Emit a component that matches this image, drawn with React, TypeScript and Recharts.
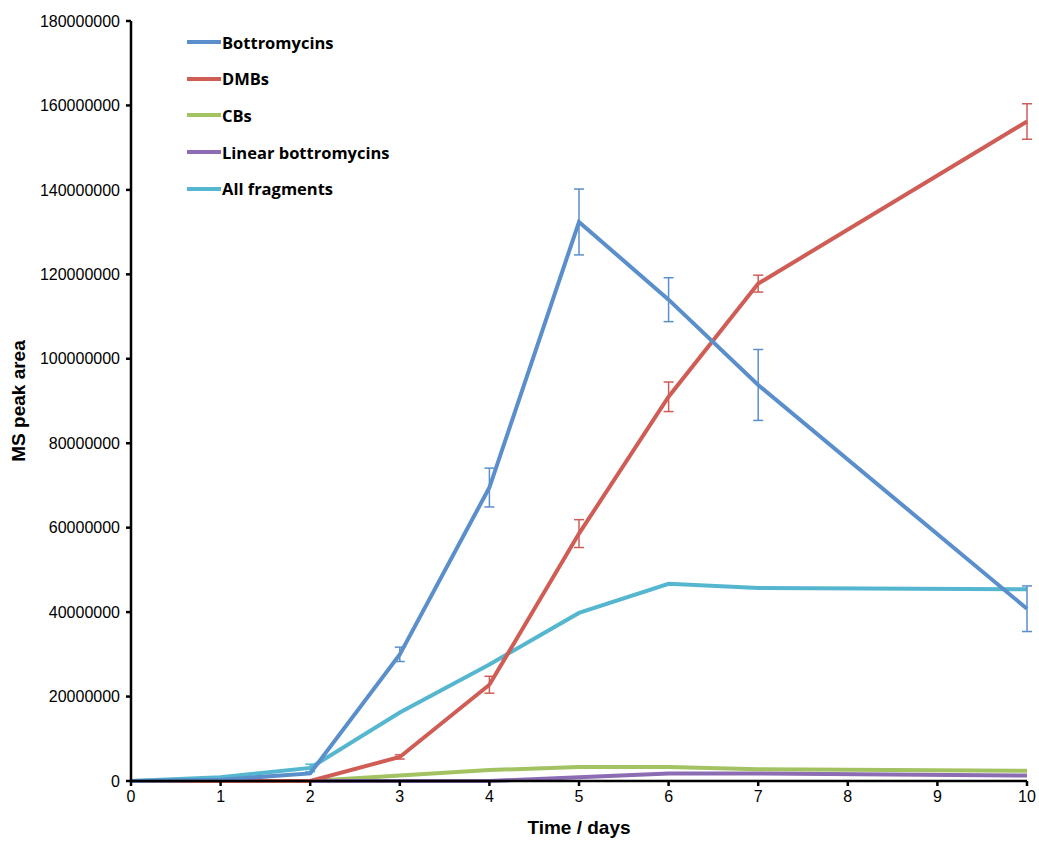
import { Line, LineChart, XAxis, YAxis, ErrorBar, Legend } from 'recharts';

const days = [0, 1, 2, 3, 4, 5, 6, 7, 10];
const bottromycins = [0, 300000, 1800000, 30000000, 69500000, 132400000, 114000000, 93800000, 40800000];
const bottromycinsErr = [0, 0, 0, 1700000, 4600000, 7800000, 5200000, 8400000, 5400000];
const dmbs = [0, 0, 0, 5700000, 22800000, 58600000, 91000000, 117800000, 156200000];
const dmbsErr = [0, 0, 0, 500000, 2000000, 3300000, 3500000, 2000000, 4200000];
const cbs = [0, 0, 0, 1300000, 2600000, 3300000, 3300000, 2800000, 2400000];
const linear = [0, 0, 0, 0, 0, 900000, 1800000, 1800000, 1300000];
const fragments = [0, 900000, 3100000, 16200000, 27600000, 39800000, 46700000, 45700000, 45400000];
const fragmentsErr = [0, 0, 900000, 0, 0, 0, 0, 0, 0];
const xTicks = [0, 1, 2, 3, 4, 5, 6, 7, 8, 9, 10];
const yTicks = [0, 20000000, 40000000, 60000000, 80000000, 100000000, 120000000, 140000000, 160000000, 180000000];

const data = days.map((d, i) => ({
  day: d,
  bottromycins: bottromycins[i],
  bottromycinsErr: bottromycinsErr[i],
  dmbs: dmbs[i],
  dmbsErr: dmbsErr[i],
  cbs: cbs[i],
  linear: linear[i],
  fragments: fragments[i],
  fragmentsErr: fragmentsErr[i],
}));

const series = [
  { key: 'bottromycins', name: 'Bottromycins', color: '#5b8fcb' },
  { key: 'dmbs', name: 'DMBs', color: '#cf5d56' },
  { key: 'cbs', name: 'CBs', color: '#a3c262' },
  { key: 'linear', name: 'Linear bottromycins', color: '#8c6cb2' },
  { key: 'fragments', name: 'All fragments', color: '#55b6cf' },
];

const labelFont = "'Liberation Sans', Arial, sans-serif";
const titleFont = "'Liberation Sans Narrow', 'Liberation Sans', Arial, sans-serif";

// legend sits inside the plot, top-left, like the original
const renderLegend = () => (
  <div style={{ fontFamily: "'Open Sans', 'Liberation Sans', sans-serif", fontWeight: 700, fontSize: 16.5 }}>
    {series.map((s) => (
      <div key={s.key} style={{ display: 'flex', alignItems: 'center', height: 36.6 }}>
        <span style={{ display: 'inline-block', width: 34, height: 4, background: s.color, marginRight: 1 }} />
        <span style={{ color: '#000' }}>{s.name}</span>
      </div>
    ))}
  </div>
);

const App = (): React.ReactElement => {
  return (
    <div style={{ position: 'absolute', left: 0, top: 0, width: 1039, height: 841 }}>
      <LineChart width={1039} height={841} data={data} margin={{ top: 21, right: 12, bottom: 5, left: 0 }}>
        <XAxis
          dataKey="day"
          type="number"
          domain={[0, 10]}
          ticks={xTicks}
          interval={0}
          height={55}
          tickSize={5}
          tickMargin={5}
          axisLine={{ stroke: '#000', strokeWidth: 2.5 }}
          tickLine={{ stroke: '#000', strokeWidth: 2.5 }}
          tick={{ fill: '#000', fontSize: 16, fontFamily: labelFont }}
          label={{ value: 'Time / days', position: 'insideBottom', offset: 2, fill: '#000', fontSize: 19, fontWeight: 700, fontFamily: titleFont }}
        />
        <YAxis
          type="number"
          domain={[0, 180000000]}
          ticks={yTicks}
          interval={0}
          width={131}
          tickSize={5}
          tickMargin={6}
          axisLine={{ stroke: '#000', strokeWidth: 2.5 }}
          tickLine={{ stroke: '#000', strokeWidth: 2.5 }}
          tick={{ fill: '#000', fontSize: 16, fontFamily: labelFont }}
          tickFormatter={(v: number) => String(v)}
          label={{ value: 'MS peak area', angle: -90, position: 'insideLeft', offset: 18, fill: '#000', fontSize: 19, fontWeight: 700, fontFamily: titleFont, style: { textAnchor: 'middle' } }}
        />
        <Legend
          layout="horizontal"
          verticalAlign="middle"
          align="center"
          content={renderLegend}
          wrapperStyle={{ top: 24, left: 187, width: 240 }}
        />
        <Line type="linear" dataKey="cbs" name="CBs" stroke="#a3c262" strokeWidth={4} dot={false} isAnimationActive={false} legendType="none" />
        <Line type="linear" dataKey="linear" name="Linear bottromycins" stroke="#8c6cb2" strokeWidth={4} dot={false} isAnimationActive={false} legendType="none" />
        <Line type="linear" dataKey="fragments" name="All fragments" stroke="#55b6cf" strokeWidth={4} dot={false} isAnimationActive={false} legendType="none">
          <ErrorBar dataKey="fragmentsErr" width={5} strokeWidth={1.5} stroke="#55b6cf" direction="y" />
        </Line>
        <Line type="linear" dataKey="dmbs" name="DMBs" stroke="#cf5d56" strokeWidth={4} dot={false} isAnimationActive={false} legendType="none">
          <ErrorBar dataKey="dmbsErr" width={5} strokeWidth={1.5} stroke="#cf5d56" direction="y" />
        </Line>
        <Line type="linear" dataKey="bottromycins" name="Bottromycins" stroke="#5b8fcb" strokeWidth={4} dot={false} isAnimationActive={false} legendType="none">
          <ErrorBar dataKey="bottromycinsErr" width={5} strokeWidth={1.5} stroke="#5b8fcb" direction="y" />
        </Line>
      </LineChart>
    </div>
  );
};

export default App;
